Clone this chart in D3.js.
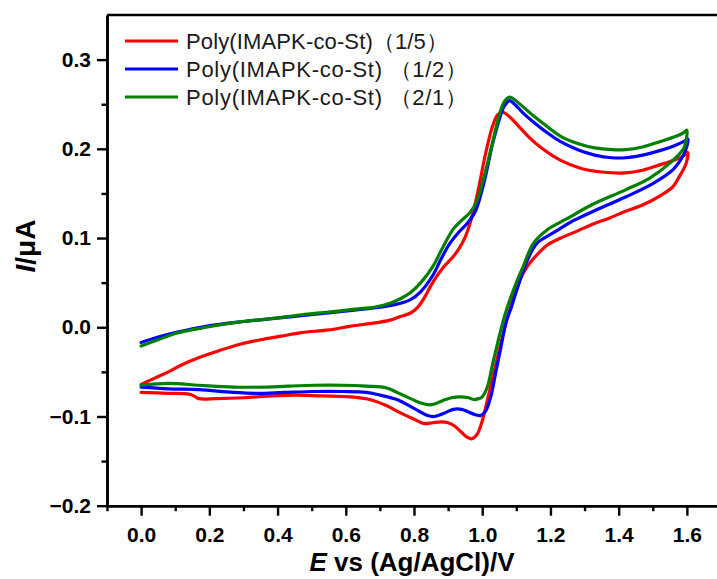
<!DOCTYPE html>
<html>
<head>
<meta charset="utf-8">
<script src="https://cdn.jsdelivr.net/npm/d3@7"></script>
<style>
  html, body { margin: 0; padding: 0; background: #fff; }
  svg { display: block; }
  text { font-family: "Liberation Sans", Arial, sans-serif; }
</style>
</head>
<body>
<svg id="chart" width="717" height="579"></svg>
<script>
// ---- Data (E in V vs Ag/AgCl, I in µA) ----
const seriesNames = ["Poly(IMAPK-co-St)\uFF081/5\uFF09", "Poly(IMAPK-co-St) \uFF081/2\uFF09", "Poly(IMAPK-co-St) \uFF082/1\uFF09"];
const seriesColors = ["#ff0000", "#0000ff", "#008000"];

const cvRed = [
  [0.00,-0.064],[0.04,-0.057],[0.08,-0.050],[0.12,-0.042],[0.17,-0.034],[0.23,-0.026],[0.29,-0.019],
  [0.35,-0.014],[0.41,-0.010],[0.47,-0.006],[0.55,-0.003],[0.61,0.001],[0.67,0.004],[0.73,0.008],
  [0.76,0.012],[0.79,0.016],[0.81,0.022],[0.83,0.033],[0.85,0.047],[0.87,0.059],[0.89,0.069],
  [0.91,0.077],[0.93,0.087],[0.95,0.101],[0.97,0.124],[0.99,0.157],[1.01,0.195],[1.03,0.225],
  [1.045,0.238],[1.06,0.241],[1.08,0.236],[1.11,0.224],[1.14,0.212],[1.17,0.202],[1.23,0.187],
  [1.29,0.178],[1.35,0.174],[1.42,0.173],[1.47,0.176],[1.52,0.182],[1.56,0.187],[1.59,0.192],[1.602,0.196],
  [1.598,0.184],[1.578,0.169],[1.56,0.158],[1.52,0.147],[1.47,0.137],[1.42,0.130],[1.37,0.122],
  [1.32,0.115],[1.28,0.108],[1.23,0.100],[1.19,0.092],[1.16,0.081],[1.13,0.067],[1.11,0.053],
  [1.09,0.031],[1.075,0.012],[1.06,-0.010],[1.045,-0.033],[1.03,-0.057],[1.015,-0.082],[1.00,-0.105],
  [0.985,-0.120],[0.97,-0.125],[0.955,-0.123],[0.94,-0.118],[0.92,-0.111],[0.90,-0.107],[0.88,-0.106],
  [0.855,-0.107],[0.83,-0.108],[0.80,-0.103],[0.76,-0.096],[0.72,-0.088],[0.67,-0.081],[0.61,-0.078],
  [0.53,-0.077],[0.46,-0.076],[0.38,-0.077],[0.30,-0.079],[0.22,-0.080],[0.17,-0.080],[0.155,-0.077],
  [0.14,-0.075],[0.08,-0.074],[0.00,-0.073]
];

const cvBlue = [
  [0.00,-0.017],[0.05,-0.011],[0.10,-0.006],[0.19,0.001],[0.29,0.006],[0.39,0.010],[0.47,0.013],
  [0.55,0.016],[0.62,0.019],[0.69,0.022],[0.74,0.025],[0.79,0.031],[0.82,0.040],[0.855,0.058],
  [0.88,0.077],[0.905,0.094],[0.93,0.106],[0.955,0.116],[0.98,0.130],[1.005,0.162],[1.03,0.205],
  [1.05,0.233],[1.065,0.248],[1.08,0.254],[1.095,0.250],[1.12,0.240],[1.15,0.230],[1.18,0.221],
  [1.23,0.208],[1.28,0.199],[1.33,0.193],[1.38,0.190],[1.42,0.190],[1.47,0.193],[1.52,0.198],
  [1.56,0.203],[1.59,0.208],[1.603,0.211],
  [1.60,0.203],[1.59,0.193],[1.56,0.177],[1.50,0.161],[1.42,0.146],[1.32,0.129],[1.27,0.120],
  [1.23,0.111],[1.20,0.104],[1.16,0.094],[1.13,0.073],[1.10,0.040],[1.085,0.022],[1.07,0.006],
  [1.055,-0.022],[1.04,-0.050],[1.025,-0.078],[1.01,-0.094],[0.995,-0.099],[0.98,-0.098],[0.96,-0.095],
  [0.94,-0.092],[0.915,-0.092],[0.89,-0.096],[0.86,-0.100],[0.84,-0.099],[0.80,-0.091],[0.75,-0.081],
  [0.70,-0.076],[0.66,-0.073],[0.59,-0.072],[0.51,-0.072],[0.42,-0.073],[0.34,-0.074],[0.27,-0.073],
  [0.17,-0.070],[0.08,-0.069],[0.00,-0.067]
];

const cvGreen = [
  [0.00,-0.021],[0.05,-0.014],[0.10,-0.007],[0.19,0.000],[0.29,0.006],[0.39,0.010],[0.47,0.014],
  [0.55,0.017],[0.62,0.020],[0.69,0.023],[0.73,0.027],[0.76,0.032],[0.79,0.039],[0.82,0.050],
  [0.855,0.068],[0.885,0.090],[0.915,0.110],[0.94,0.120],[0.965,0.129],[0.985,0.142],[1.005,0.168],
  [1.03,0.207],[1.05,0.238],[1.065,0.253],[1.08,0.258],[1.095,0.255],[1.12,0.247],[1.15,0.237],
  [1.18,0.228],[1.23,0.214],[1.28,0.206],[1.33,0.201],[1.38,0.199],[1.42,0.199],[1.47,0.202],
  [1.52,0.208],[1.56,0.213],[1.59,0.218],[1.60,0.221],
  [1.598,0.210],[1.59,0.200],[1.55,0.184],[1.49,0.167],[1.42,0.154],[1.32,0.137],[1.25,0.122],
  [1.19,0.109],[1.15,0.094],[1.12,0.068],[1.10,0.050],[1.09,0.040],[1.075,0.024],[1.06,0.005],
  [1.045,-0.018],[1.03,-0.042],[1.015,-0.067],[1.00,-0.078],[0.99,-0.080],[0.975,-0.081],[0.96,-0.079],
  [0.935,-0.078],[0.91,-0.079],[0.885,-0.082],[0.86,-0.086],[0.845,-0.087],[0.82,-0.085],[0.79,-0.080],
  [0.75,-0.073],[0.72,-0.068],[0.66,-0.066],[0.59,-0.065],[0.51,-0.065],[0.43,-0.066],[0.37,-0.067],
  [0.27,-0.067],[0.17,-0.065],[0.08,-0.063],[0.00,-0.065]
];

const xMajorTicks = [0.0, 0.2, 0.4, 0.6, 0.8, 1.0, 1.2, 1.4, 1.6];
const xMinorTicks = [-0.1, 0.1, 0.3, 0.5, 0.7, 0.9, 1.1, 1.3, 1.5, 1.7];
const yMajorTicks = [-0.2, -0.1, 0.0, 0.1, 0.2, 0.3];
const yMinorTicks = [-0.15, -0.05, 0.05, 0.15, 0.25];

// ---- Layout ----
const svg = d3.select("#chart");
const plotL = 107, plotR = 721, plotT = 15, plotB = 505.7;
const x = d3.scaleLinear().domain([-0.1, 1.7]).range([plotL, plotR]);
const y = d3.scaleLinear().domain([-0.2, 0.35]).range([plotB, plotT]);
const fmt = d3.format(".1f");

// curves
const line = d3.line().x(d => x(d[0])).y(d => y(d[1])).curve(d3.curveCatmullRom.alpha(0.5));
const allSeries = [cvRed, cvBlue, cvGreen];
allSeries.forEach((s, i) => {
  svg.append("path")
    .attr("d", line(s))
    .attr("fill", "none")
    .attr("stroke", seriesColors[i])
    .attr("stroke-width", 3.2)
    .attr("stroke-linejoin", "round")
    .attr("stroke-linecap", "round");
});

// frame top / right
svg.append("line").attr("x1", plotL).attr("x2", plotR).attr("y1", plotT).attr("y2", plotT)
  .attr("stroke", "#000").attr("stroke-width", 2.6);
svg.append("line").attr("x1", plotR).attr("x2", plotR).attr("y1", plotT).attr("y2", plotB)
  .attr("stroke", "#000").attr("stroke-width", 2.6);

// axes
function styleAxis(g) {
  g.select(".domain").attr("stroke-width", 2.6);
  g.selectAll(".tick line").attr("stroke-width", 2.4);
  g.selectAll(".tick text").attr("font-size", 21).attr("font-weight", "bold")
    .attr("font-family", "'Liberation Sans', Arial, sans-serif").attr("fill", "#000");
}
const gx = svg.append("g").attr("transform", `translate(0,${plotB})`)
  .call(d3.axisBottom(x).tickValues(xMajorTicks).tickFormat(fmt).tickSize(10).tickSizeOuter(0).tickPadding(11));
styleAxis(gx);
const gxm = svg.append("g").attr("transform", `translate(0,${plotB})`)
  .call(d3.axisBottom(x).tickValues(xMinorTicks).tickFormat("").tickSize(5.5).tickSizeOuter(0));
styleAxis(gxm);

const gy = svg.append("g").attr("transform", `translate(${plotL},0)`)
  .call(d3.axisLeft(y).tickValues(yMajorTicks).tickFormat(fmt).tickSize(10).tickSizeOuter(0).tickPadding(6));
styleAxis(gy);
const gym = svg.append("g").attr("transform", `translate(${plotL},0)`)
  .call(d3.axisLeft(y).tickValues(yMinorTicks).tickFormat("").tickSize(5.5).tickSizeOuter(0));
styleAxis(gym);

// axis titles
const xt = svg.append("text").attr("x", 412).attr("y", 571)
  .attr("text-anchor", "middle").attr("font-size", 26).attr("font-weight", "bold");
xt.append("tspan").attr("font-style", "italic").text("E");
xt.append("tspan").text(" vs (Ag/AgCl)/V");

const yt = svg.append("text").attr("transform", "translate(35,246) rotate(-90)")
  .attr("text-anchor", "middle").attr("font-size", 28).attr("font-weight", "bold");
yt.append("tspan").attr("font-style", "italic").text("I");
yt.append("tspan").text("/\u03BCA");

// legend
const legendY = [41, 69, 97];
const legendLen = [262, 281, 281];
seriesNames.forEach((name, i) => {
  svg.append("line").attr("x1", 125).attr("x2", 178).attr("y1", legendY[i]).attr("y2", legendY[i])
    .attr("stroke", seriesColors[i]).attr("stroke-width", 3.2);
  svg.append("text").attr("x", 186).attr("y", legendY[i] + 7.5)
    .attr("font-size", 22).attr("fill", "#1a1a1a")
    .attr("textLength", legendLen[i]).attr("lengthAdjust", "spacing")
    .text(name);
});
</script>
</body>
</html>
